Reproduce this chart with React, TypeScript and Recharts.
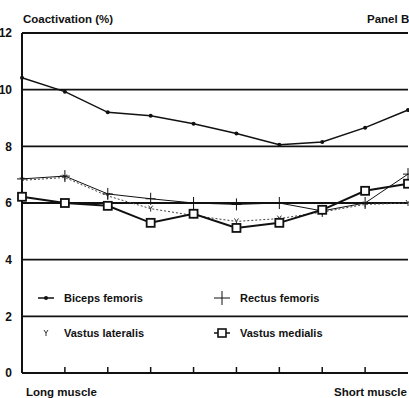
import { LineChart, Line, XAxis, YAxis, CartesianGrid } from 'recharts'

// muscle length steps, long (0) -> short (9)
const steps = [0, 1, 2, 3, 4, 5, 6, 7, 8, 9]
const bicepsFemoris = [10.42, 9.93, 9.2, 9.08, 8.8, 8.45, 8.06, 8.15, 8.66, 9.28]
const rectusFemoris = [6.85, 6.95, 6.32, 6.15, 6.0, 5.95, 6.0, 5.72, 6.0, 7.02]
const vastusLateralis = [6.8, 6.9, 6.25, 5.8, 5.56, 5.35, 5.45, 5.68, 5.95, 6.0]
const vastusMedialis = [6.22, 6.0, 5.9, 5.3, 5.62, 5.12, 5.3, 5.76, 6.43, 6.68]
const yTicks = [0, 2, 4, 6, 8, 10, 12]
const xTicks = [1, 2, 3, 4, 5, 6, 7, 8]

const data = steps.map((s, i) => ({
  step: s,
  bf: bicepsFemoris[i],
  rf: rectusFemoris[i],
  vl: vastusLateralis[i],
  vm: vastusMedialis[i],
}))

const FONT = '"Liberation Sans", Arial, sans-serif'

const textStyle: React.CSSProperties = {
  position: 'absolute',
  fontFamily: FONT,
  fontWeight: 900,
  fontSize: 11.5,
  color: '#111',
  whiteSpace: 'nowrap',
  lineHeight: 1,
}

const DotMarker = (p: any) => <circle key={p.index} cx={p.cx} cy={p.cy} r={2} fill="#111" />
const PlusMarker = (p: any) => (
  <path key={p.index} d={`M${p.cx - 5},${p.cy}h10M${p.cx},${p.cy - 6}v12`} stroke="#111" strokeWidth={1} />
)
const YMarker = (p: any) => (
  <path key={p.index} d={`M${p.cx - 2},${p.cy - 3}L${p.cx},${p.cy}L${p.cx + 2},${p.cy - 3}M${p.cx},${p.cy}v3`} stroke="#333" strokeWidth={1} fill="none" />
)
const SquareMarker = (p: any) => (
  <rect key={p.index} x={p.cx - 4} y={p.cy - 4} width={8} height={8} fill="#fff" stroke="#111" strokeWidth={1.8} />
)

function LegendBox() {
  const row: React.CSSProperties = { display: 'flex', alignItems: 'center', height: 14 }
  const label: React.CSSProperties = { fontFamily: FONT, fontWeight: 900, fontSize: 11, color: '#111', marginLeft: 8 }
  return (
    <div style={{ position: 'absolute', left: 38, top: 291, display: 'grid', gridTemplateColumns: '176px 120px', rowGap: 21 }}>
      <div style={row}>
        <svg width={18} height={14}><line x1={0} y1={7} x2={16} y2={7} stroke="#111" strokeWidth={1.5} /><circle cx={8} cy={7} r={2} fill="#111" /></svg>
        <span style={label}>Biceps femoris</span>
      </div>
      <div style={row}>
        <svg width={18} height={14}><line x1={0} y1={7} x2={16} y2={7} stroke="#111" strokeWidth={1} /><path d="M8,0v14" stroke="#111" strokeWidth={1} /></svg>
        <span style={label}>Rectus femoris</span>
      </div>
      <div style={row}>
        <svg width={18} height={14}><path d="M6,4L8,7L10,4M8,7v3" stroke="#333" strokeWidth={1} fill="none" /></svg>
        <span style={label}>Vastus lateralis</span>
      </div>
      <div style={row}>
        <svg width={18} height={14}><line x1={0} y1={7} x2={16} y2={7} stroke="#111" strokeWidth={1.5} /><rect x={4} y={3} width={8} height={8} fill="#fff" stroke="#111" strokeWidth={1.6} /></svg>
        <span style={label}>Vastus medialis</span>
      </div>
    </div>
  )
}

export default function App() {
  return (
    <div style={{ position: 'absolute', left: 0, top: 0, width: 409, height: 398, background: '#fff', overflow: 'hidden' }}>
      <LineChart width={410} height={398} data={data} margin={{ top: 33, right: 2, bottom: 25, left: 0 }}>
        <CartesianGrid vertical={false} stroke="#111" strokeWidth={1.8} />
        {/* mirrored axis: tick marks point up into the plot, labels hidden */}
        <XAxis
          dataKey="step"
          type="number"
          domain={[0, 9]}
          ticks={xTicks}
          tick={() => <g />}
          mirror
          tickSize={6}
          axisLine={{ stroke: '#111', strokeWidth: 2 }}
          tickLine={{ stroke: '#111', strokeWidth: 1.5 }}
        />
        <YAxis
          domain={[0, 12]}
          ticks={yTicks}
          width={22}
          tickLine={false}
          tickMargin={4}
          axisLine={{ stroke: '#111', strokeWidth: 2 }}
          tick={{ fill: '#111', fontFamily: FONT, fontWeight: 900, fontSize: 12 }}
        />
        <Line dataKey="vl" stroke="#444" strokeWidth={1} strokeDasharray="2 2" dot={YMarker} isAnimationActive={false} />
        <Line dataKey="rf" stroke="#111" strokeWidth={1} dot={PlusMarker} isAnimationActive={false} />
        <Line dataKey="bf" stroke="#111" strokeWidth={1.5} dot={DotMarker} isAnimationActive={false} />
        <Line dataKey="vm" stroke="#111" strokeWidth={2} dot={SquareMarker} isAnimationActive={false} />
      </LineChart>
      <LegendBox />
      <span style={{ ...textStyle, left: 23, top: 14 }}>Coactivation (%)</span>
      <span style={{ ...textStyle, left: 367, top: 14 }}>Panel B</span>
      <span style={{ ...textStyle, left: 26, top: 387 }}>Long muscle</span>
      <span style={{ ...textStyle, left: 334, top: 387 }}>Short muscle</span>
    </div>
  )
}
